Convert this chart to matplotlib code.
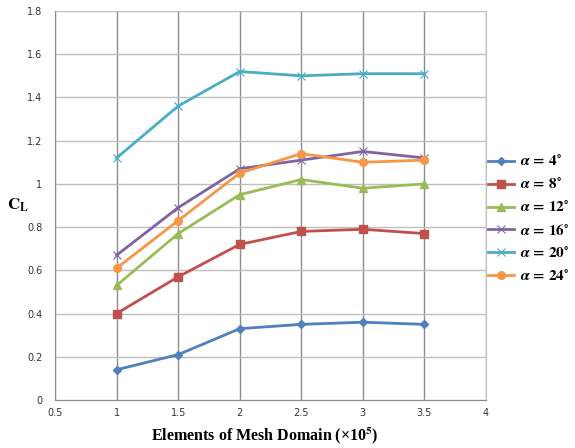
import matplotlib
matplotlib.use("Agg")
import matplotlib.pyplot as plt

x = [1, 1.5, 2, 2.5, 3, 3.5]
cl_4 = [0.14, 0.21, 0.33, 0.35, 0.36, 0.35]
cl_8 = [0.40, 0.57, 0.72, 0.78, 0.79, 0.77]
cl_12 = [0.53, 0.77, 0.95, 1.02, 0.98, 1.00]
cl_16 = [0.67, 0.89, 1.07, 1.11, 1.15, 1.12]
cl_20 = [1.12, 1.36, 1.52, 1.50, 1.51, 1.51]
cl_24 = [0.61, 0.83, 1.05, 1.14, 1.10, 1.11]
labels = ["4", "8", "12", "16", "20", "24"]
x_ticks = [0.5, 1, 1.5, 2, 2.5, 3, 3.5, 4]
y_ticks = [0, 0.2, 0.4, 0.6, 0.8, 1.0, 1.2, 1.4, 1.6, 1.8]
y_ticklabels = ["0", "0.2", "0.4", "0.6", "0.8", "1", "1.2", "1.4", "1.6", "1.8"]

plt.rcParams['mathtext.fontset'] = 'stix'

fig = plt.figure(figsize=(5.75, 4.48), dpi=100)
ax = fig.add_axes([55/575, 1-400/448, (486-55)/575, (400-11)/448])

styles = [
    (cl_4, '#4F81BD', 'D', 4, 1.0),
    (cl_8, '#C0504D', 's', 5.5, 1.0),
    (cl_12, '#9BBB59', '^', 5.5, 1.0),
    (cl_16, '#8064A2', 'x', 6, 0.8),
    (cl_20, '#4BACC6', 'x', 6, 0.8),
    (cl_24, '#F79646', 'o', 5.5, 1.0),
]
for (ys, c, m, ms, mw), lab in zip(styles, labels):
    ax.plot(x, ys, color=c, lw=2, marker=m, ms=ms, mfc=c, mec=c, mew=mw,
            label=r'$\boldsymbol{\alpha}\,\mathbf{=\,' + lab + r'^{\circ}}$', zorder=3)
# asterisk vertical stroke for 20 deg
ax.plot(x, cl_20, ls='none', marker='|', ms=6, mec='#4BACC6', mew=0.7, zorder=3)

ax.set_xlim(0.5, 4)
ax.set_ylim(0, 1.8)
ax.set_xticks(x_ticks)
ax.set_xticklabels([f"{v:g}" for v in x_ticks])
ax.set_yticks(y_ticks)
ax.set_yticklabels(y_ticklabels)
ax.tick_params(labelsize=7, length=0, pad=6, colors='#333333')
ax.tick_params(axis='y', pad=9)
ax.xaxis.grid(True, color='#8c8c8c', lw=1)
ax.yaxis.grid(True, color='#bfbfbf', lw=1)
ax.set_axisbelow(True)
for s in ax.spines.values():
    s.set_color('#8c8c8c')
ax.spines['top'].set_visible(False)
ax.spines['right'].set_color('#bfbfbf')

fig.text(265/575, 1-436/448, r'Elements of Mesh Domain (×10$^{\mathbf{5}}$)',
         fontfamily='Liberation Serif', fontweight='bold', fontsize=11.5,
         ha='center', va='center')
fig.text(18/575, 1-205/448, r'$\mathbf{C_L}$', fontsize=12, ha='center', va='center')

leg = fig.legend(loc='upper left', bbox_to_anchor=(488/575, 1-154/448), frameon=False,
                 fontsize=11, handlelength=1.7, labelspacing=0.52, handletextpad=0.4,
                 borderaxespad=0, borderpad=0)
fig.savefig("out.png", dpi=100)
